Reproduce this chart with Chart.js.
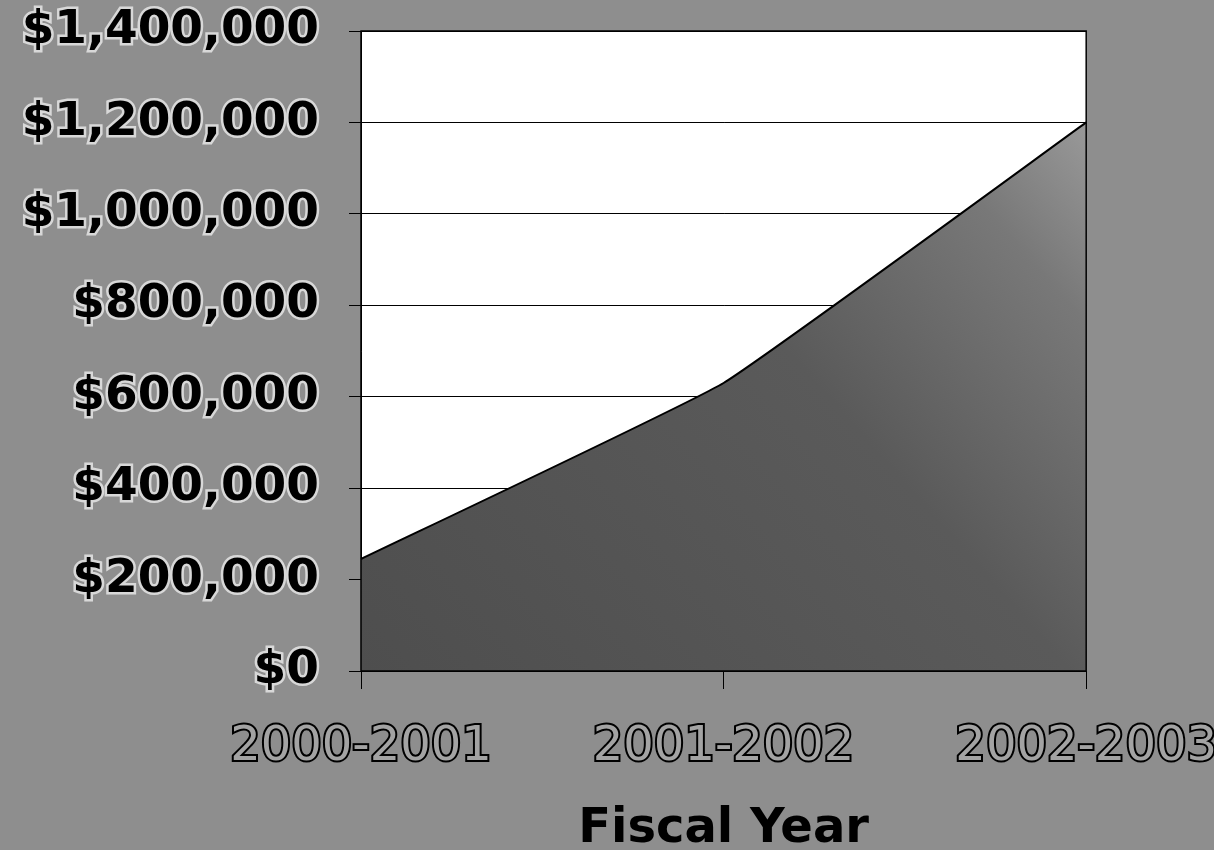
<!DOCTYPE html>
<html>
<head>
<meta charset="utf-8">
<script src="https://cdn.jsdelivr.net/npm/chart.js@4/dist/chart.umd.min.js"></script>
<style>
  html, body { margin: 0; padding: 0; overflow: hidden; background: #8e8e8e; }
  #wrap { position: relative; width: 1247px; height: 850px; }
</style>
</head>
<body>
<div id="wrap"><canvas id="chart"></canvas></div>
<script>
// fiscal years and yearly totals
const fiscalYears = ['2000-2001', '2001-2002', '2002-2003'];
const totals = [245000, 630000, 1200000];

const yMin = 0;
const yMax = 1400000;
const yStep = 200000;

function areaFill(context) {
  const chart = context.chart;
  const area = chart.chartArea;
  if (!area) return '#5c5c5c';
  const g = chart.ctx.createLinearGradient(area.left, area.bottom, area.right, area.top);
  g.addColorStop(0, '#4e4e4e');
  g.addColorStop(0.55, '#5a5a5a');
  g.addColorStop(0.8, '#787878');
  g.addColorStop(1, '#a8a8a8');
  return g;
}

// white plot background
const plotBackground = {
  id: 'plotBackground',
  beforeDraw(chart) {
    const { ctx, chartArea } = chart;
    ctx.save();
    ctx.fillStyle = '#ffffff';
    ctx.fillRect(chartArea.left, chartArea.top, chartArea.width, chartArea.height);
    ctx.restore();
  }
};

new Chart(document.getElementById('chart'), {
  type: 'line',
  data: {
    labels: fiscalYears,
    datasets: [{
      data: totals,
      fill: 'start',
      backgroundColor: areaFill,
      borderColor: '#000000',
      borderWidth: 2,
      pointRadius: 0,
      tension: 0.1
    }]
  },
  options: {
    responsive: true,
    maintainAspectRatio: false,
    animation: false,
    layout: { padding: { top: 31, bottom: 0 } },
    plugins: {
      legend: { display: false },
      tooltip: { enabled: false }
    },
    scales: {
      x: {
        offset: false,
        afterFit(scale) { scale.height = 179; },
        grid: {
          display: true,
          drawOnChartArea: false,
          color: '#000000',
          tickLength: 18
        },
        border: { color: '#000000', width: 1 },
        ticks: {
          color: '#a3a3a3',
          textStrokeColor: '#000000',
          textStrokeWidth: 4,
          padding: 30,
          maxRotation: 0,
          font: { family: 'DejaVu Sans', size: 48 }
        },
        title: {
          display: true,
          text: 'Fiscal Year',
          color: '#000000',
          padding: { top: 0, bottom: 0 },
          font: { family: 'DejaVu Sans', size: 48, weight: 'bold', lineHeight: 0.85 }
        }
      },
      y: {
        min: yMin,
        max: yMax,
        afterFit(scale) {
          scale.width = 361;
          scale.paddingTop = 0;
          scale.paddingBottom = 0;
        },
        grid: {
          color: '#000000',
          lineWidth: 1,
          tickLength: 12
        },
        border: { color: '#000000', width: 1 },
        ticks: {
          stepSize: yStep,
          color: '#000000',
          textStrokeColor: '#d8d8d8',
          textStrokeWidth: 5,
          padding: 30,
          font: { family: 'DejaVu Sans', size: 47, weight: 'bold' },
          callback: v => '$' + Number(v).toLocaleString('en-US')
        }
      }
    }
  },
  plugins: [plotBackground, {
    id: 'frame',
    afterDraw(chart) {
      const { ctx, chartArea } = chart;
      ctx.save();
      ctx.strokeStyle = '#000000';
      ctx.lineWidth = 1.5;
      ctx.strokeRect(chartArea.left, chartArea.top, chartArea.width, chartArea.height);
      ctx.restore();
    }
  }]
});
</script>
</body>
</html>
